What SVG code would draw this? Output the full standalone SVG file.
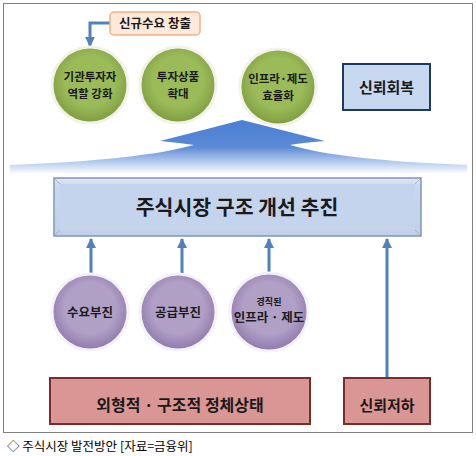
<svg xmlns="http://www.w3.org/2000/svg" width="476" height="456" viewBox="0 0 476 456">
<defs>
<style>
text{font-family:"Malgun Gothic","Noto Sans CJK KR",sans-serif;font-weight:bold;fill:#1a1a1a;text-anchor:middle}
.cap{font-weight:normal;text-anchor:start;fill:#000}
.green{fill:url(#gG);stroke:#f2f2ea;stroke-width:3}
.purple{fill:url(#gP);stroke:#f4f2f6;stroke-width:3}
.red{fill:#da9694;stroke:#7a2e2c;stroke-width:2}
.conn{stroke:#4f81bd;stroke-width:3;fill:none}
</style>
<radialGradient id="gG" cx="0.5" cy="0.45" r="0.55">
<stop offset="0.6" stop-color="#9bbb59"/><stop offset="1" stop-color="#7e9c3e"/>
</radialGradient>
<radialGradient id="gP" cx="0.5" cy="0.45" r="0.55">
<stop offset="0.6" stop-color="#b1a0c6"/><stop offset="1" stop-color="#8f79ad"/>
</radialGradient>
<linearGradient id="gA" x1="0" y1="0" x2="0" y2="1">
<stop offset="0" stop-color="#4a7fd3"/><stop offset="0.5" stop-color="#5b8ad6"/><stop offset="0.8" stop-color="#bcd0ee"/><stop offset="1" stop-color="#ffffff"/>
</linearGradient>
<linearGradient id="gB" x1="0" y1="0" x2="0" y2="1">
<stop offset="0" stop-color="#dfe8f5"/><stop offset="0.15" stop-color="#c9d8ee"/><stop offset="1" stop-color="#bfd0e8"/>
</linearGradient>
<marker id="ah" viewBox="0 0 10 10" refX="9" refY="5" markerWidth="3.3" markerHeight="3.3" orient="auto">
<path d="M0,0 L10,5 L0,10 Z" fill="#4f81bd"/>
</marker>
</defs>
<rect width="476" height="456" fill="#fff"/>
<rect x="3.5" y="3.5" width="469" height="429" fill="none" stroke="#000" stroke-width="1" stroke-dasharray="1,1"/>

<g id="bigArrow">
<path d="M242,120 L325,141 Q300,143 290,145 Q340,160 467,165 L467,174 L10,174 L10,165 Q140,160 194,145 Q180,143 160,141 Z" fill="url(#gA)"/>
</g>

<g id="connectors">
<path class="conn" d="M110,23 H90 V46" stroke-width="2.5" marker-end="url(#ah)"/>
<path class="conn" d="M91,273 V239" marker-end="url(#ah)"/>
<path class="conn" d="M182,273 V239" marker-end="url(#ah)"/>
<path class="conn" d="M269,274 V239" marker-end="url(#ah)"/>
<path class="conn" d="M387,377 V239" marker-end="url(#ah)"/>
</g>

<g id="newDemand">
<rect x="110" y="12" width="90" height="23" rx="4" fill="#fde9d9" stroke="#f4b183" stroke-width="1.5"/>
<text x="155" y="28" font-size="12.5">신규수요 창출</text>
</g>

<g id="g1">
<circle class="green" cx="90" cy="85" r="38"/>
<text x="90" y="81" font-size="11.5">기관투자자</text>
<text x="90" y="98" font-size="11.5">역할 강화</text>
</g>
<g id="g2">
<circle class="green" cx="178" cy="85" r="38"/>
<text x="178" y="81" font-size="11.5">투자상품</text>
<text x="178" y="98" font-size="11.5">확대</text>
</g>
<g id="g3">
<circle class="green" cx="278" cy="87" r="38"/>
<text x="278" y="83" font-size="11.5">인프라·제도</text>
<text x="278" y="100" font-size="11.5">효율화</text>
</g>

<g id="trustRecover">
<rect x="343" y="64" width="87" height="46" fill="#c6d9f1" stroke="#1f3a5f" stroke-width="2"/>
<text x="386.5" y="92.5" font-size="15">신뢰회복</text>
</g>

<g id="mainBox">
<rect x="54" y="178" width="367" height="58" fill="url(#gB)" stroke="#7f97b8" stroke-width="1.5"/>
<rect x="60" y="184" width="355" height="46" fill="#c3d4ec"/>
<path d="M55,179 L60,184 M420,179 L415,184 M55,235 L60,230 M420,235 L415,230" stroke="#9fb3cf" stroke-width="1"/>
<text x="237" y="214.5" font-size="20.5">주식시장 구조 개선 추진</text>
</g>

<g id="p1">
<circle class="purple" cx="90" cy="312" r="38"/>
<text x="90" y="317" font-size="12.5">수요부진</text>
</g>
<g id="p2">
<circle class="purple" cx="178" cy="312" r="38"/>
<text x="178" y="317" font-size="12.5">공급부진</text>
</g>
<g id="p3">
<circle class="purple" cx="269" cy="312" r="39"/>
<text x="269" y="305" font-size="9">경직된</text>
<text x="269" y="322" font-size="12.5">인프라 · 제도</text>
</g>

<g id="stagnation">
<rect class="red" x="50" y="378" width="260" height="46"/>
<text x="180" y="410.5" font-size="16">외형적 · 구조적 정체상태</text>
</g>
<g id="trustDrop">
<rect class="red" x="344" y="378" width="86" height="46"/>
<text x="387" y="410.5" font-size="15">신뢰저하</text>
</g>

<text class="cap" x="7" y="451" font-size="12.5">◇ 주식시장 발전방안 [자료=금융위]</text>
</svg>
